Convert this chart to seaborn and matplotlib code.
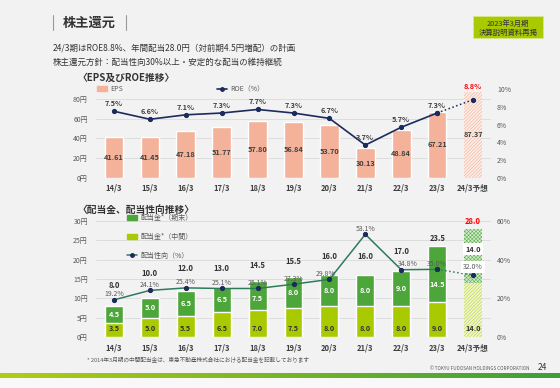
import numpy as np
import pandas as pd
import matplotlib.pyplot as plt
import matplotlib.patches as mpatches
import matplotlib.lines as mlines
from matplotlib.colors import LinearSegmentedColormap
import seaborn as sns

# data
periods = ['14/3', '15/3', '16/3', '17/3', '18/3', '19/3', '20/3', '21/3', '22/3', '23/3', '24/3予想']
eps = [41.61, 41.45, 47.18, 51.77, 57.80, 56.84, 53.70, 30.13, 48.84, 67.21, 87.37]
roe = [7.5, 6.6, 7.1, 7.3, 7.7, 7.3, 6.7, 3.7, 5.7, 7.3, 8.8]
div_interim = [3.5, 5.0, 5.5, 6.5, 7.0, 7.5, 8.0, 8.0, 8.0, 9.0, 14.0]
div_final = [4.5, 5.0, 6.5, 6.5, 7.5, 8.0, 8.0, 8.0, 9.0, 14.5, 14.0]
payout = [19.2, 24.1, 25.4, 25.1, 25.1, 27.3, 29.8, 53.1, 34.8, 35.0, 32.0]

# label placement tweaks (data units above bar top / points)
total_lift = [5.2, 6.3, 5.8, 4.6, 3.9, 4.1, 4.9, 4.9, 5.0, 2.1, 2.0]
payout_dx = [0, 0, 0, 0, 0, 0, -3, 0, 5, 0, 0]

df = pd.DataFrame({'period': periods, 'eps': eps, 'roe': roe,
                   'interim': div_interim, 'final': div_final, 'payout': payout})
df['total'] = df['interim'] + df['final']
df['pos'] = np.arange(len(df))

SALMON = '#f3b299'
NAVY = '#1c2a5e'
GREEN = '#4ca63a'
YGREEN = '#a9c900'
TEAL = '#2e7b5c'
BG = '#f2f2f2'
DARK = '#404040'
GRAY = '#595959'

sns.set_theme(style='white')
plt.rcParams['font.family'] = ['Noto Sans CJK JP', 'DejaVu Sans']
plt.rcParams['hatch.linewidth'] = 0.4

W, H = 560, 388
fig = plt.figure(figsize=(W / 100, H / 100), dpi=100, facecolor=BG)


def fx(x):
    return x / W


def fy(y):
    return 1 - y / H


def style_axes(ax, right=False, xpad=4.5):
    ax.set_facecolor(BG)
    for s in ax.spines.values():
        s.set_visible(False)
    ax.set_xlabel('')
    ax.set_ylabel('')
    ax.tick_params(axis='y', length=0, labelsize=5, labelcolor=GRAY, pad=4.3 if right else 5.8)
    ax.tick_params(axis='x', length=0, labelsize=5.5, labelcolor=DARK, pad=xpad)


# ---------------- header ----------------
for xx in (53, 126):
    fig.add_artist(mlines.Line2D([fx(xx), fx(xx)], [fy(15), fy(30)], color='#9a9a9a', lw=0.8))
fig.text(fx(63), fy(23), '株主還元', fontsize=9.5, fontweight='bold', color='#333333', va='center')
fig.text(fx(53), fy(48), '24/3期はROE8.8%、年間配当28.0円（対前期4.5円増配）の計画',
         fontsize=6.1, color='#333333', va='center')
fig.text(fx(53), fy(62), '株主還元方針：配当性向30%以上・安定的な配当の維持継続',
         fontsize=6.1, color='#333333', va='center')
fig.add_artist(mpatches.Rectangle((fx(473), fy(38)), 70 / W, 22 / H, transform=fig.transFigure,
                                  facecolor=YGREEN, edgecolor='#d8e88a', lw=0.6))
fig.text(fx(508), fy(23.5), '2023年3月期', fontsize=5.3, color='#333333', ha='center', va='center')
fig.text(fx(508), fy(32.5), '決算説明資料再掲', fontsize=5.3, color='#333333', ha='center', va='center')

fig.text(fx(78), fy(78), '〈EPS及びROE推移〉', fontsize=7, fontweight='bold', color='#333333', va='center')
fig.text(fx(78), fy(210), '〈配当金、配当性向推移〉', fontsize=7, fontweight='bold', color='#333333', va='center')

# ---------------- top chart: EPS / ROE ----------------
ax1 = fig.add_axes([fx(96), fy(178), (491 - 96) / W, 89 / H])
sns.barplot(data=df, x='period', y='eps', ax=ax1, color=SALMON, width=0.52, saturation=1)
p = ax1.patches[-1]
p.set_facecolor('#fcefe9')
p.set_edgecolor('#f0a88c')
p.set_hatch('//////////')
p.set_linewidth(0)
for i, v in enumerate(eps):
    ax1.text(i, v / 2, f'{v:.2f}', ha='center', va='center', fontsize=5.3,
             fontweight='bold', color=DARK)
ax1.set_ylim(0, 90)
ax1.set_yticks([0, 20, 40, 60, 80])
ax1.set_yticklabels([f'{t}円' for t in [0, 20, 40, 60, 80]])
ax1.yaxis.grid(True, color='#d9d9d9', lw=0.6)
ax1.set_axisbelow(True)
style_axes(ax1, xpad=4.3)

ax1r = ax1.twinx()
sns.lineplot(data=df.iloc[:10], x='pos', y='roe', ax=ax1r, color=NAVY, lw=1.2,
             marker='o', markersize=3, markeredgecolor=NAVY)
sns.lineplot(data=df.iloc[9:], x='pos', y='roe', ax=ax1r, color=NAVY, lw=1.1, linestyle=':',
             marker='o', markersize=3, markeredgecolor=NAVY)
ax1r.set_ylim(0, 10)
ax1r.set_yticks(range(0, 11, 2))
ax1r.set_yticklabels([f'{t}%' for t in range(0, 11, 2)])
style_axes(ax1r, right=True)
for i, v in enumerate(roe):
    last = i == len(roe) - 1
    ax1r.annotate(f'{v}%', (i, v), xytext=(0, 9.5 if last else 5.5), textcoords='offset points',
                  ha='center', va='center', fontsize=5.3, fontweight='bold',
                  color='#ff0000' if last else DARK)
ax1.set_xlim(-0.5, 10.5)
for lbl in ax1.get_xticklabels():
    lbl.set_fontweight('bold')

h1 = [mpatches.Patch(color=SALMON, label='EPS'),
      mlines.Line2D([], [], color=NAVY, marker='o', ms=2.5, lw=1.2, label='ROE（%）')]
ax1r.legend(handles=h1, loc='upper left', bbox_to_anchor=(fx(97), fy(85)),
            bbox_transform=fig.transFigure, ncol=2, frameon=False, fontsize=5,
            labelcolor=GRAY, handlelength=1.5, handleheight=0.6, handletextpad=0.4,
            columnspacing=13.5, borderpad=0, borderaxespad=0)

# ---------------- bottom chart: dividends / payout ----------------
ax2 = fig.add_axes([fx(96), fy(337), (491 - 96) / W, 116 / H])
sns.barplot(data=df, x='period', y='total', ax=ax2, color=GREEN, width=0.5, saturation=1)
sns.barplot(data=df, x='period', y='interim', ax=ax2, color=YGREEN, width=0.5, saturation=1)
n = len(df)
top = ax2.patches[n - 1]
top.set_facecolor('#d6ebcf')
top.set_edgecolor('#5fb050')
top.set_hatch('xxxxxxxxx')
top.set_linewidth(0)
bot = ax2.patches[2 * n - 1]
bot.set_facecolor('#f0f6cf')
bot.set_edgecolor('#b5d12a')
bot.set_hatch('//////////')
bot.set_linewidth(0)

for i in range(n):
    a, b, t = div_interim[i], div_final[i], df['total'][i]
    last = i == n - 1
    ax2.text(i, 2.3, f'{a:.1f}', ha='center', va='center', fontsize=5.3,
             fontweight='bold', color='#333333')
    fy_ = a + b / 2
    if i == 4:
        fy_ = 10.0
    if i == 9:
        fy_ = 13.5
    if last:
        ax2.text(i, 22.7, f'{b:.1f}', ha='center', va='center', fontsize=5.3, fontweight='bold',
                 color='#333333', bbox=dict(boxstyle='square,pad=0.35', fc='white', ec='none'))
    else:
        ax2.text(i, fy_, f'{b:.1f}', ha='center', va='center', fontsize=5.3,
                 fontweight='bold', color='white')
    ax2.text(i, t + total_lift[i], f'{t:.1f}', ha='center', va='center', fontsize=5.5,
             fontweight='bold', color='#ff0000' if last else '#333333')

ax2.set_ylim(0, 30)
ax2.set_yticks(range(0, 31, 5))
ax2.set_yticklabels([f'{t}円' for t in range(0, 31, 5)])
ax2.yaxis.grid(True, color='#d9d9d9', lw=0.6)
ax2.set_axisbelow(True)
style_axes(ax2, xpad=5)

ax2r = ax2.twinx()
sns.lineplot(data=df.iloc[:10], x='pos', y='payout', ax=ax2r, color=TEAL, lw=1.1,
             marker='o', markersize=3, markerfacecolor=NAVY, markeredgecolor=NAVY)
sns.lineplot(data=df.iloc[9:], x='pos', y='payout', ax=ax2r, color=TEAL, lw=1.1, linestyle=':',
             marker='o', markersize=3, markerfacecolor=NAVY, markeredgecolor=NAVY)
ax2r.set_ylim(0, 60)
ax2r.set_yticks(range(0, 61, 20))
ax2r.set_yticklabels([f'{t}%' for t in range(0, 61, 20)])
style_axes(ax2r, right=True)
for i, v in enumerate(payout):
    last = i == n - 1
    kw = dict(boxstyle='square,pad=0.3', fc='white', ec='none') if last else None
    ax2r.annotate(f'{v}%', (i, v), xytext=(payout_dx[i], 6 if last else 4), textcoords='offset points',
                  ha='center', va='center', fontsize=5, color=GRAY, bbox=kw)
ax2.set_xlim(-0.5, 10.5)
for lbl in ax2.get_xticklabels():
    lbl.set_fontweight('bold')

h2 = [mpatches.Patch(color=GREEN, label='配当金*（期末）'),
      mpatches.Patch(color=YGREEN, label='配当金*（中間）'),
      mlines.Line2D([], [], color=TEAL, marker='o', ms=2.5, mfc=NAVY, mec=NAVY, lw=1.1,
                    label='配当性向（%）')]
ax2r.legend(handles=h2, loc='upper left', bbox_to_anchor=(fx(127), fy(214)),
            bbox_transform=fig.transFigure, frameon=False, fontsize=5, labelcolor=GRAY,
            handlelength=1.5, handleheight=0.6, handletextpad=0.4, labelspacing=1.55,
            borderpad=0, borderaxespad=0)

# ---------------- footer ----------------
fig.text(fx(87), fy(359), '* 2014年3月期の中間配当金は、東急不動産株式会社における配当金を記載しております',
         fontsize=4.1, color=GRAY, va='center')
fig.text(fx(530), fy(368), '© TOKYU FUDOSAN HOLDINGS CORPORATION', fontsize=3.3, color=GRAY,
         ha='right', va='center')
fig.text(fx(538), fy(367), '24', fontsize=6, color='#333333', va='center')

fig.add_artist(mpatches.Rectangle((0, 0), 1, 10 / H, transform=fig.transFigure,
                                  facecolor='#f8f8f8', edgecolor='none'))
axg = fig.add_axes([0, fy(378), 1, 5 / H])
grad = np.linspace(0, 1, 256).reshape(1, -1)
axg.imshow(grad, aspect='auto', cmap=LinearSegmentedColormap.from_list('g', ['#b2cc14', '#3d9e3a']))
axg.axis('off')

fig.savefig('out.png', dpi=100, facecolor=BG)
